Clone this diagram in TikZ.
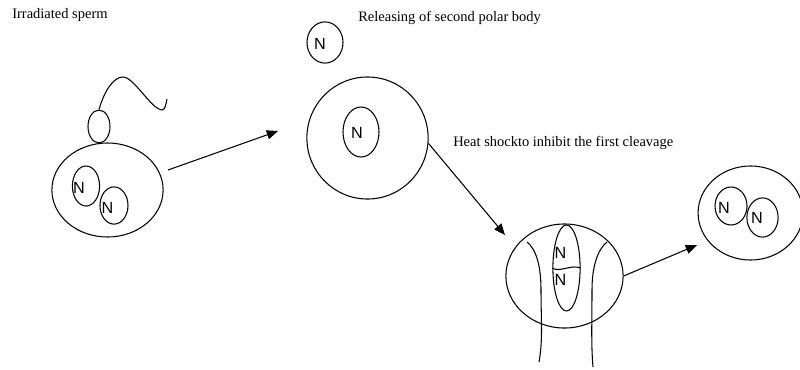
\documentclass[tikz,border=0pt]{standalone}
\usepackage{fontspec}
\setmainfont{Liberation Serif}
\newfontfamily\labfont{Liberation Sans}
\usetikzlibrary{arrows.meta,shapes.geometric}

\tikzset{
  cell/.style={ellipse,draw,line width=0.75pt,inner sep=0pt},
  nuc/.style={ellipse,draw,line width=0.75pt,inner sep=0pt},
  nlab/.style={font=\labfont\fontsize{11.5}{12}\selectfont,inner sep=0pt},
  lbl/.style={anchor=west,font=\fontsize{10.3}{12}\selectfont,inner sep=0pt},
  arr/.style={-{Triangle[length=8pt,width=6.5pt]},line width=0.75pt}
}

\begin{document}
\begin{tikzpicture}[x=0.025cm,y=-0.025cm]
\useasboundingbox (0,0) rectangle (800,369);

% sperm
\node[lbl] (tsperm) at (12,15) {Irradiated sperm};
\node[cell,minimum width=2.78cm,minimum height=2.35cm] (sperm) at (107.5,190) {};
\node[nuc,minimum width=0.68cm,minimum height=1cm] (sn1) at (86,186) {};
\node[nuc,minimum width=0.7cm,minimum height=0.93cm] (sn2) at (114,205.5) {};
\node[nlab] (lsn1) at (79,188) {N};
\node[nlab] (lsn2) at (107.5,208) {N};
\node[cell,minimum width=0.55cm,minimum height=0.82cm] (head) at (99,126.5) {};
\draw[line width=0.75pt] (head.north) .. controls (104,92) and (113,77) .. (123,77)
  .. controls (134,77) and (151,109) .. (162,110) .. controls (165,110) and (166,104) .. (167,99);
\coordinate (a1s) at (168,170);
\coordinate (a1e) at (278,131);
\draw[arr] (a1s) -- (a1e);

% egg and polar body
\node[lbl] (tpolar) at (358,18) {Releasing of second polar body};
\node[cell,minimum width=0.9cm,minimum height=1.03cm] (polar) at (325,42.5) {};
\node[nlab] (lpolar) at (320,44) {N};
\node[cell,minimum width=3.03cm,minimum height=3.05cm] (egg) at (367.5,138) {};
\node[nuc,minimum width=0.9cm,minimum height=1.25cm] (en) at (361,132) {};
\node[nlab] (len) at (357,133) {N};
\node[lbl] (theat) at (453,143) {Heat shockto inhibit the first cleavage};
\coordinate (a2e) at (505,235);
\draw[arr] (egg.-5) -- (a2e);

% first cleavage held back
\node[cell,minimum width=2.93cm,minimum height=2.6cm] (cleave) at (564.5,276) {};
\node[nuc,minimum width=0.68cm,minimum height=2.15cm] (cn) at (566.5,268) {};
\draw[line width=0.75pt] (cn.west) .. controls (559,273) and (571,264) .. (cn.east);
\node[nlab] (lcn1) at (560.5,253) {N};
\node[nlab] (lcn2) at (560.5,280) {N};
\draw[line width=0.75pt] (527,242) .. controls (537,250) and (541,268) .. (541,290)
  .. controls (541,320) and (543,340) .. (539,362);
\draw[line width=0.75pt] (607,242) .. controls (597,250) and (592,268) .. (592,290)
  .. controls (592,320) and (591,345) .. (593,367);
\coordinate (a3e) at (697,245);
\draw[arr] (cleave.east) -- (a3e);

% diploid cell
\node[cell,minimum width=2.62cm,minimum height=2.35cm] (dip) at (750.5,213) {};
\node[nuc,minimum width=0.8cm,minimum height=0.95cm] (dn1) at (731,206) {};
\node[nuc,minimum width=0.78cm,minimum height=0.98cm] (dn2) at (762.5,217.5) {};
\node[nlab] (ldn1) at (724,208) {N};
\node[nlab] (ldn2) at (757,218) {N};
\end{tikzpicture}
\end{document}
